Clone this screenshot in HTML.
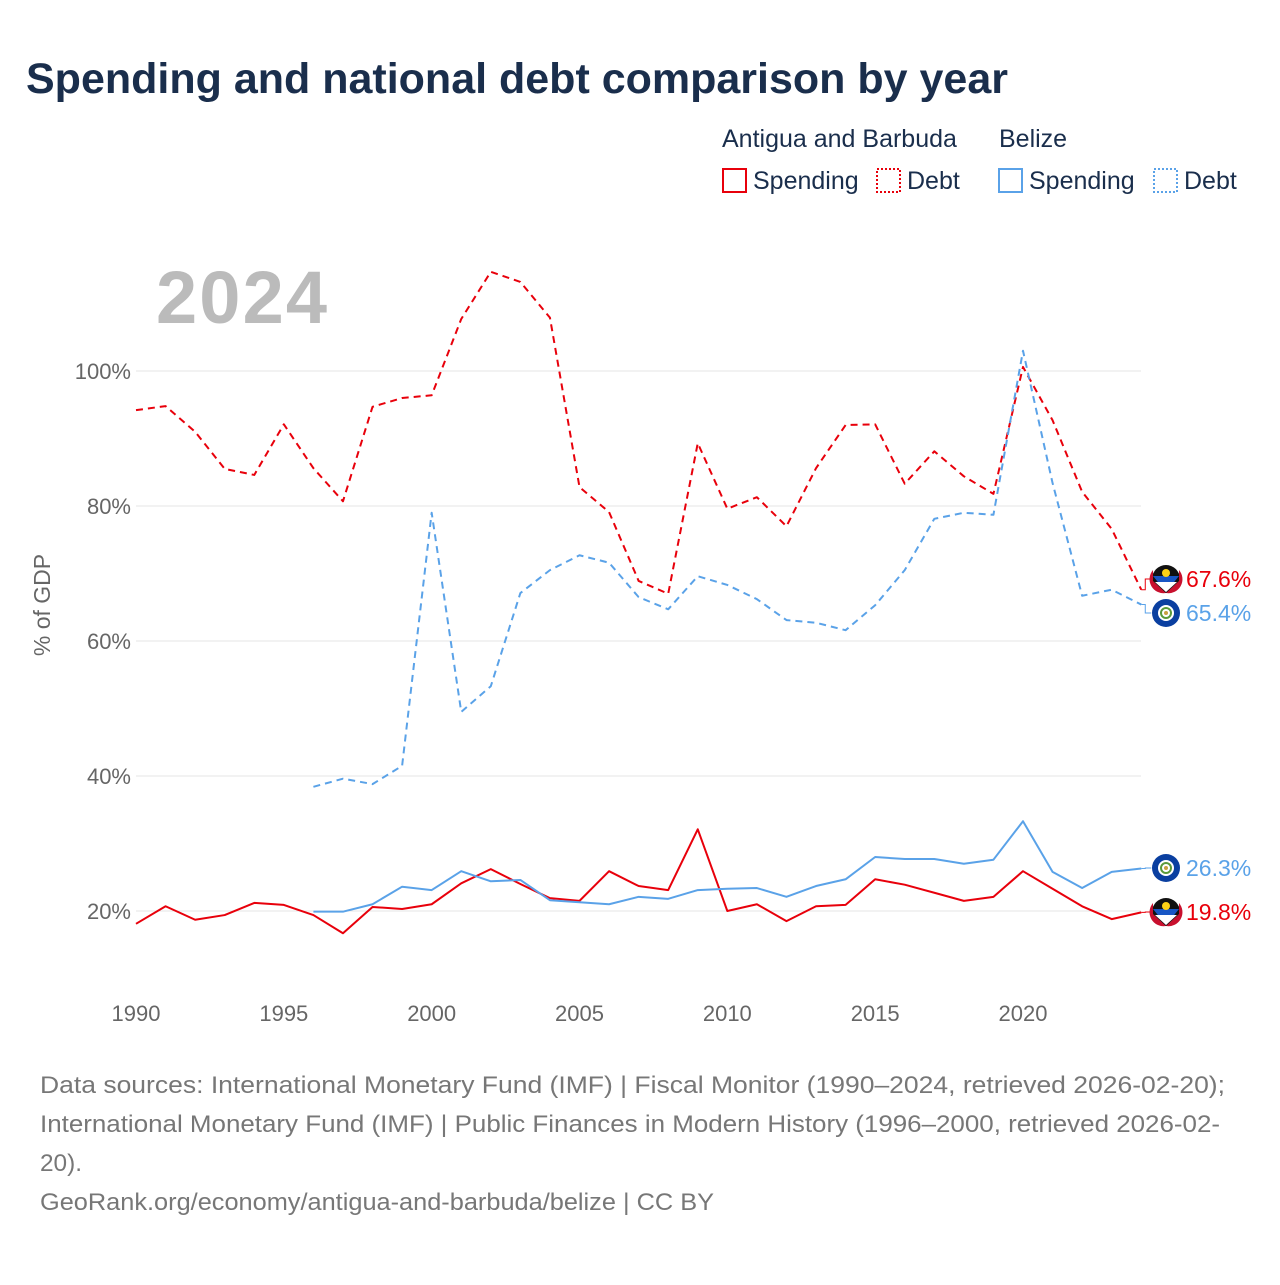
<!DOCTYPE html>
<html><head><meta charset="utf-8"><style>
body{margin:0;background:#fff;font-family:"Liberation Sans",sans-serif}
svg text{font-family:"Liberation Sans",sans-serif}
</style></head><body>
<svg width="1280" height="1280" xmlns="http://www.w3.org/2000/svg" id="chart">
<text x="26" y="93" font-size="43" font-weight="bold" fill="#1a2e4c">Spending and national debt comparison by year</text>
<g font-size="25" fill="#1a2e4c">
<text x="722" y="147" fill="#1a2e4c">Antigua and Barbuda</text>
<text x="999" y="147" fill="#1a2e4c">Belize</text>
<g><rect x="723" y="169" width="23" height="23" fill="none" stroke="#e8000b" stroke-width="2"/><text x="753" y="189" fill="#1a2e4c">Spending</text></g>
<g><rect x="877" y="169" width="23" height="23" fill="none" stroke="#e8000b" stroke-width="2" stroke-dasharray="2,2"/><text x="907" y="189" fill="#1a2e4c">Debt</text></g>
<g><rect x="999" y="169" width="23" height="23" fill="none" stroke="#5aa2e8" stroke-width="2"/><text x="1029" y="189" fill="#1a2e4c">Spending</text></g>
<g><rect x="1154" y="169" width="23" height="23" fill="none" stroke="#5aa2e8" stroke-width="2" stroke-dasharray="2,2"/><text x="1184" y="189" fill="#1a2e4c">Debt</text></g>
</g>
<text x="156" y="323" font-size="74" font-weight="bold" fill="#bbbbbb" textLength="171">2024</text>
<text transform="translate(50,605) rotate(-90)" text-anchor="middle" font-size="23" fill="#666">% of GDP</text>
<g id="grid"></g>
<g id="series"></g>
<g id="labels"></g>
<g font-size="24" fill="#777">
<text x="40" y="1093" textLength="1185" lengthAdjust="spacingAndGlyphs">Data sources: International Monetary Fund (IMF) | Fiscal Monitor (1990–2024, retrieved 2026-02-20);</text>
<text x="40" y="1132" textLength="1180" lengthAdjust="spacingAndGlyphs">International Monetary Fund (IMF) | Public Finances in Modern History (1996–2000, retrieved 2026-02-</text>
<text x="40" y="1171" textLength="42" lengthAdjust="spacingAndGlyphs">20).</text>
<text x="40" y="1210" textLength="674" lengthAdjust="spacingAndGlyphs">GeoRank.org/economy/antigua-and-barbuda/belize | CC BY</text>
</g>
</svg>
<script>
const yTicks=[20,40,60,80,100];
const xTicks=[1990,1995,2000,2005,2010,2015,2020];
const agDebtYears=[1990,1991,1992,1993,1994,1995,1996,1997,1998,1999,2000,2001,2002,2003,2004,2005,2006,2007,2008,2009,2010,2011,2012,2013,2014,2015,2016,2017,2018,2019,2020,2021,2022,2023,2024];
const agDebt=[94.2,94.8,91,85.5,84.6,92.1,85.6,80.7,94.7,96,96.4,107.7,114.7,113.2,107.9,82.8,79.1,68.9,67,89.3,79.6,81.3,77,85.6,92,92.1,83.3,88.1,84.4,81.8,100.6,92.7,82.1,76.6,67.6];
const agSpend=[18.1,20.7,18.7,19.4,21.2,20.9,19.4,16.7,20.6,20.3,21,24.1,26.2,24,21.9,21.5,25.9,23.7,23.1,32.1,20,21,18.5,20.7,20.9,24.7,23.9,22.7,21.5,22.1,25.9,23.3,20.7,18.8,19.8];
const bzYears=[1996,1997,1998,1999,2000,2001,2002,2003,2004,2005,2006,2007,2008,2009,2010,2011,2012,2013,2014,2015,2016,2017,2018,2019,2020,2021,2022,2023,2024];
const bzDebt=[38.4,39.6,38.8,41.5,79,49.5,53.3,67.1,70.5,72.7,71.6,66.5,64.7,69.6,68.3,66.2,63.1,62.7,61.6,65.3,70.5,78.1,79,78.7,103,83.4,66.7,67.6,65.4];
const bzSpend=[19.9,19.9,21,23.6,23.1,25.9,24.4,24.6,21.6,21.3,21,22.1,21.8,23.1,23.3,23.4,22.1,23.7,24.7,28,27.7,27.7,27,27.6,33.3,25.8,23.4,25.8,26.3];

const NS="http://www.w3.org/2000/svg";
const X=y=>136+(y-1990)*(887/30);
const Y=v=>1046-v*6.75;
function mk(tag,attrs,parent){const e=document.createElementNS(NS,tag);for(const k in attrs)e.setAttribute(k,attrs[k]);parent.appendChild(e);return e;}
const grid=document.getElementById('grid');
yTicks.forEach(t=>{
  const l=mk('line',{x1:136,x2:1141,y1:Y(t),y2:Y(t),stroke:'#e6e6e6','stroke-width':1},grid);
  
  
  const tx=mk('text',{x:131,y:Y(t)+8,'text-anchor':'end','font-size':22,fill:'#666'},grid);
  tx.textContent=t+'%';
  
  
});
xTicks.forEach(t=>{
  const tx=mk('text',{x:X(t),y:1021,'text-anchor':'middle','font-size':22,fill:'#666'},grid);
  tx.textContent=t;
  
  
});
const ser=document.getElementById('series');
function line(years,vals,color,dash,name){
  const p=mk('polyline',{points:years.map((y,i)=>X(y)+','+Y(vals[i])).join(' '),fill:'none',stroke:color,'stroke-width':2,'stroke-dasharray':dash||'none','stroke-linejoin':'round'},ser);
  
  
}
line(agDebtYears,agDebt,'#e8000b','7,5','line-antigua-debt');
line(bzYears,bzDebt,'#5aa2e8','7,5','line-belize-debt');
line(agDebtYears,agSpend,'#e8000b',null,'line-antigua-spending');
line(bzYears,bzSpend,'#5aa2e8',null,'line-belize-spending');
const lab=document.getElementById('labels');
function endLabel(v,ly,color,name,flag){
  const x0=X(2024);
  mk('polyline',{points:`${x0},${Y(v)} ${x0+4},${Y(v)} ${x0+4},${ly} ${x0+10},${ly}`,fill:'none',stroke:color,'stroke-width':1},lab);
  const g=mk('g',{},lab);
  
  
  if(flag==='ag'){mk('circle',{cx:1166,cy:ly,r:14,fill:'#111'},g);mk('path',{d:`M1153,${ly-3} L1179,${ly-3} L1166,${ly+13}Z`,fill:'#1856c4'},g);mk('path',{d:`M1155,${ly+3} L1177,${ly+3} L1166,${ly+13}Z`,fill:'#fff'},g);mk('circle',{cx:1166,cy:ly-6,r:4,fill:'#fcd116'},g);mk('path',{d:`M1153,${ly-9} A14,14 0 0 0 1166,${ly+14} L1153,${ly+2}Z`,fill:'#c8102e'},g);mk('path',{d:`M1179,${ly-9} A14,14 0 0 1 1166,${ly+14} L1179,${ly+2}Z`,fill:'#c8102e'},g);}
  else{mk('circle',{cx:1166,cy:ly,r:14,fill:'#0a3fa0'},g);mk('circle',{cx:1166,cy:ly,r:8,fill:'#fff'},g);mk('circle',{cx:1166,cy:ly,r:5,fill:'none',stroke:'#5a9a3a','stroke-width':2},g);mk('circle',{cx:1166,cy:ly,r:2,fill:'#c8a040'},g);}
  const t=mk('text',{x:1186,y:ly+8,'font-size':23,fill:color},lab);
  t.textContent=v+'%';
  
  
}
endLabel(agDebt[agDebt.length-1],579,'#e8000b','antigua-debt','ag');
endLabel(bzDebt[bzDebt.length-1],613,'#5aa2e8','belize-debt','bz');
endLabel(bzSpend[bzSpend.length-1],868,'#5aa2e8','belize-spending','bz');
endLabel(agSpend[agSpend.length-1],912,'#e8000b','antigua-spending','ag');
</script>
</body></html>
